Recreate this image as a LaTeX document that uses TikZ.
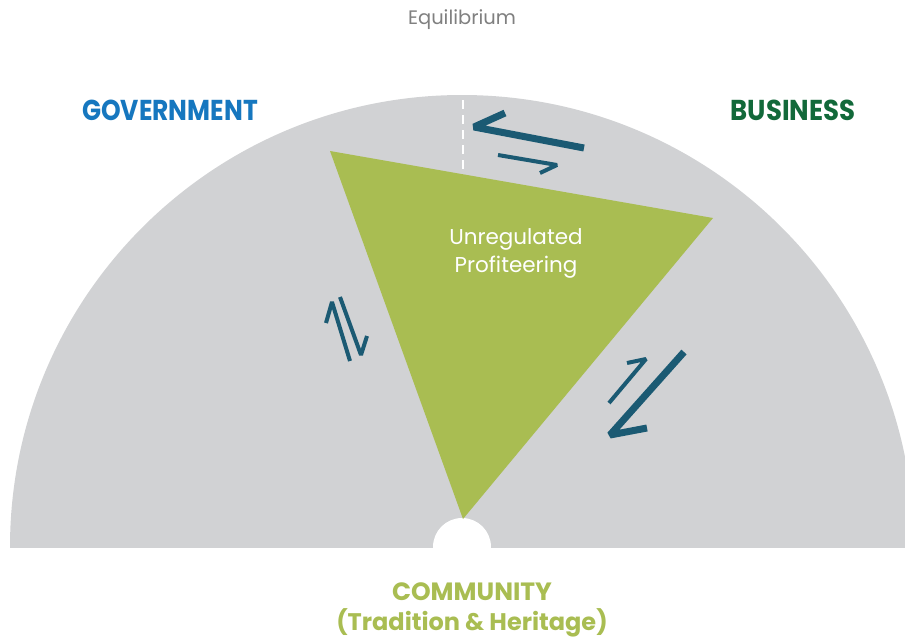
\documentclass[tikz,border=0pt]{standalone}
\usepackage{fontspec}
\setmainfont{Poppins}
\newfontfamily\headfont{Poppins}
\definecolor{dialgray}{HTML}{D1D2D4}
\definecolor{wedge}{HTML}{A9BD52}
\definecolor{teal}{HTML}{1B5A73}
\definecolor{govblue}{HTML}{1677BF}
\definecolor{busgreen}{HTML}{12693A}
\definecolor{labelgray}{HTML}{808080}
\begin{document}
\begin{tikzpicture}[x=1pt,y=-1pt,
  thickharp/.style={draw=teal,line width=7pt,line join=bevel,line cap=butt},
  thinharp/.style={draw=teal,line width=4pt,line join=bevel,line cap=butt},
  heading/.style={font=\headfont\bfseries\fontsize{25}{28}\selectfont,inner sep=0pt},
  community/.style={font=\headfont\bfseries\selectfont,text=wedge,inner sep=0pt}]
\useasboundingbox (0,0) rectangle (905,640);
\fill[white] (0,0) rectangle (905,640);
% half dial
\begin{scope}
  \clip (0,0) rectangle (905,547);
  \fill[dialgray] (462,547) circle[radius=452];
\end{scope}
% hub
\fill[white] (462,547) circle[radius=29];
% vertical balance mark
\draw[white,line width=1.6pt,dash pattern=on 9pt off 6pt] (463,100) -- (463,178);
% the wedge
\coordinate (tl) at (330,151);
\coordinate (tr) at (713,218);
\coordinate (bt) at (463,519);
\fill[wedge] (tl) -- (tr) -- (bt) -- cycle;
\node[text=white,font=\fontsize{21.5}{28}\selectfont,align=center] (profit) at (516,253) {Unregulated\\Profiteering};
% equilibrium harpoons, top
\coordinate (a1) at (584,148); \coordinate (a2) at (474,127); \coordinate (a3) at (505,113);
\draw[thickharp] (a1) -- (a2) -- (a3);
\coordinate (b1) at (498,155); \coordinate (b2) at (557,165); \coordinate (b3) at (540,173);
\draw[thinharp] (b1) -- (b2) -- (b3);
% equilibrium harpoons, left
\coordinate (c1) at (350,361); \coordinate (c2) at (332,302); \coordinate (c3) at (326,323);
\draw[thinharp] (c1) -- (c2) -- (c3);
\coordinate (d1) at (340,297); \coordinate (d2) at (361,355); \coordinate (d3) at (367,336);
\draw[thinharp] (d1) -- (d2) -- (d3);
% equilibrium harpoons, right
\coordinate (e1) at (684,352); \coordinate (e2) at (610,435); \coordinate (e3) at (647,428);
\draw[thickharp] (e1) -- (e2) -- (e3);
\coordinate (f1) at (609,403); \coordinate (f2) at (646,359); \coordinate (f3) at (627,363);
\draw[thinharp] (f1) -- (f2) -- (f3);
% labels
\node[text=labelgray,font=\fontsize{19.5}{22}\selectfont] (eq) at (462,20) {Equilibrium};
\node[heading,text=govblue] (gov) at (170,110) {\scalebox{1}[1.15]{GOVERNMENT}};
\node[heading,text=busgreen] (bus) at (793,110) {\scalebox{1.04}[1.15]{BUSINESS}};
\node[community,font=\headfont\bfseries\fontsize{25}{28}\selectfont] (com) at (472,592) {COMMUNITY};
\node[community,font=\headfont\bfseries\fontsize{24}{28}\selectfont] (her) at (472,623) {(Tradition \& Heritage)};
\end{tikzpicture}
\end{document}
